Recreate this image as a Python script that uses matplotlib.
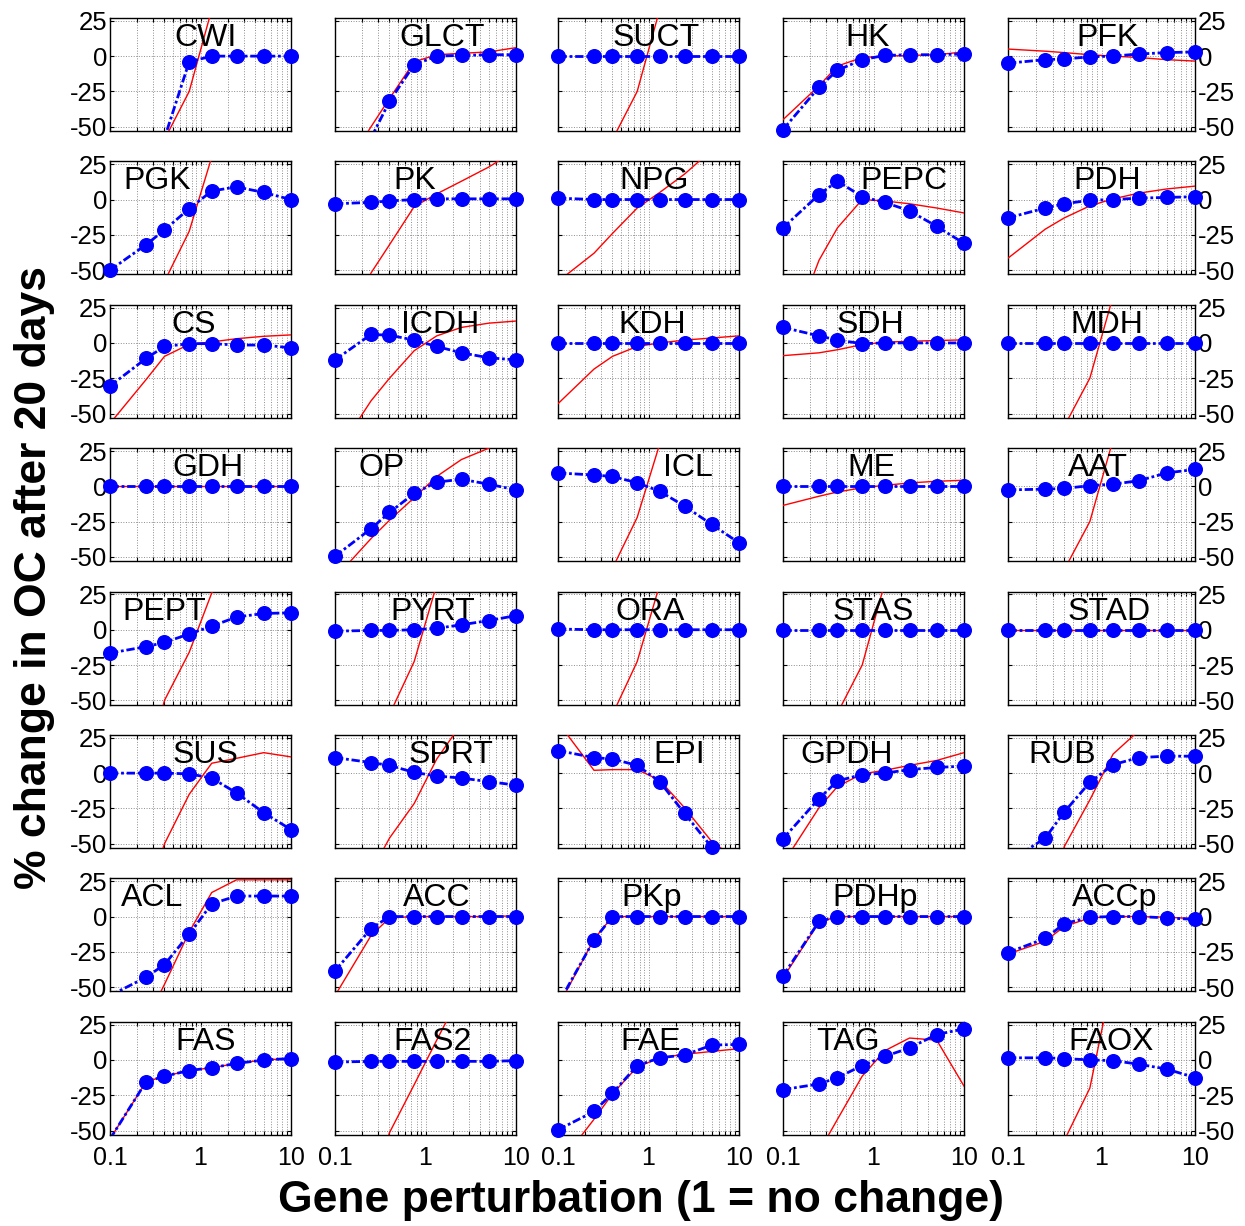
import numpy as np
import matplotlib.pyplot as plt
from matplotlib.ticker import NullFormatter

plt.rcParams['font.family'] = ['Liberation Sans', 'DejaVu Sans']
plt.rcParams['axes.unicode_minus'] = False

# gene perturbation factors, same for every panel
perturb = [0.1, 0.25, 0.4, 0.75, 1.33, 2.5, 5, 10]

# blue dots = simulated % change, red line = first order estimate
# values outside the -50..25 window are rough guesses (clipped anyway)
CWI_sim = [-150, -100, -58, -4, 0, 0, 0, 0]
CWI_est = [-150, -100, -59, -25, 33, 60, 100, 150]
GLCT_sim = [-110, -58, -32, -6, 0, 0.5, 1, 1]
GLCT_est = [-90, -50, -30, -4, 1, 2, 3, 6]
SUCT_sim = [0, 0, 0, 0, 0, 0, 0, 0]
SUCT_est = [-150, -100, -59, -25, 33, 60, 100, 150]
HK_sim = [-52, -22, -10, -2.5, 0.5, 1, 1, 1.5]
HK_est = [-45, -21, -7, -1, 0, 0.5, 1, 3]
PFK_sim = [-5, -2.5, -2, -0.5, 0, 1.5, 2.5, 3]
PFK_est = [5, 3.5, 2.5, 1, 0, -1, -2.5, -3.5]

PGK_sim = [-50, -32, -21.5, -6.5, 6, 9, 5, 0]
PGK_est = [-150, -100, -58, -22.5, 30, 60, 100, 150]
PK_sim = [-3, -2, -1, 0, 0.5, 0.5, 0.5, 0.5]
PK_est = [-110, -52, -32, -5, 4, 13, 23, 35]
NPG_sim = [1, 0, 0, 0, 0, 0, 0, 0]
NPG_est = [-58, -38, -24, -6, 5, 18, 35, 52]
PEPC_sim = [-20, 3.5, 13, 2, -2, -8, -19, -31]
PEPC_est = [-110, -43, -20, 0, -1, -3, -6, -9.5]
PDH_sim = [-13, -6, -3, -0.5, 0, 1, 1.5, 2]
PDH_est = [-41.5, -21, -13, -4.5, 0.5, 4.5, 7.5, 9.5]

CS_sim = [-30.5, -11, -2.5, -0.5, -0.5, -1.5, -1.5, -3.5]
CS_est = [-57, -26, -9.5, -1, 0.7, 3, 4.7, 5.7]
ICDH_sim = [-12, 6, 5.5, 2, -2.5, -7, -10.5, -12]
ICDH_est = [-80, -41, -25, -5.5, 5, 11, 14, 15.5]
KDH_sim = [0, 0, 0, 0, 0, 0, 0, 0]
KDH_est = [-43, -18.5, -9.5, -2.5, 0, 2, 3.5, 5]
SDH_sim = [11, 5, 2, -0.5, 0, 0, 0, 0]
SDH_est = [-9, -7, -4.8, -1.2, 0.5, 1.2, 1.7, 2.2]
MDH_sim = [0, 0, 0, 0, 0, 0, 0, 0]
MDH_est = [-150, -100, -59, -25, 33, 60, 100, 150]

GDH_sim = [0, 0, 0, 0, 0, 0, 0, 0]
GDH_est = [0, 0, 0, 0, 0, 0, 0, 0]
OP_sim = [-49.5, -30, -18.5, -5, 3, 5, 1.5, -2.5]
OP_est = [-65, -37, -24, -8, 7, 19, 27, 40]
ICL_sim = [9.5, 8, 7, 2.5, -3.5, -14, -27, -40]
ICL_est = [-150, -100, -58, -22, 30, 60, 100, 150]
ME_sim = [0, 0, 0, 0, 0, 0, 0, 0]
ME_est = [-13.5, -7, -4, -1, 0.7, 2.4, 3.6, 4.3]
AAT_sim = [-2.5, -2, -1.5, 0.5, 1.5, 4, 9.5, 12]
AAT_est = [-150, -100, -59, -25, 33, 60, 100, 150]

PEPT_sim = [-16.5, -12, -9, -3, 2.5, 9, 11.5, 12]
PEPT_est = [-150, -100, -50, -16, 26, 60, 100, 150]
PYRT_sim = [-1, -0.5, -0.5, 0, 1, 3.5, 6.5, 10]
PYRT_est = [-150, -100, -60, -22.5, 32, 60, 100, 150]
ORA_sim = [0.5, 0, 0, 0, 0, 0, 0, 0]
ORA_est = [-150, -100, -60, -22.5, 32, 60, 100, 150]
STAS_sim = [0, 0, 0, 0, 0, 0, 0, 0]
STAS_est = [-150, -100, -59, -25, 33, 60, 100, 150]
STAD_sim = [0, 0, 0, 0, 0, 0, 0, 0]
STAD_est = [0, 0, 0, 0, 0, 0, 0, 0]

SUS_sim = [0, 0, 0, -0.5, -3.5, -14, -28, -40]
SUS_est = [-150, -90, -50, -15, 7, 10.5, 14.5, 11.5]
SPRT_sim = [11, 7.5, 5.5, 0.5, -2, -3.5, -6, -8.5]
SPRT_est = [-150, -70, -46, -21.5, 10, 35, 70, 110]
EPI_sim = [16, 11, 10, 5.5, -6, -28.5, -52.5, -90]
EPI_est = [36, 2, 2.5, 2.5, -5, -24.5, -48.5, -62]
GPDH_sim = [-46.5, -18, -5.5, -1, 0, 2.5, 4, 5]
GPDH_est = [-64, -24.5, -9.5, -0.5, 2, 5.5, 9, 14.5]
RUB_sim = [-63, -46, -27.5, -6.5, 6, 11, 12, 12]
RUB_est = [-150, -100, -52, -19, 13.5, 30, 60, 100]

ACL_sim = [-56, -43, -34, -12.5, 9, 14.5, 14.5, 14.5]
ACL_est = [-120, -74, -48, -11, 17, 26, 26, 26]
ACC_sim = [-38.5, -8.5, 0, 0, 0, 0, 0, 0]
ACC_est = [-56, -13.5, -1, 0, 0, 0, 0, 0.5]
PKp_sim = [-62, -16.5, 0, 0, 0, 0, 0, 0]
PKp_est = [-64, -16, 0, 0, 0, 0, 0, 0]
PDHp_sim = [-42, -3.5, 0, 0, 0, 0, 0, 0]
PDHp_est = [-43.5, -4, 0, 0, 0, 0, 0, 0]
ACCp_sim = [-25.5, -15.5, -5, -0.5, 0, 0, -1, -2]
ACCp_est = [-26.5, -17.5, -7, -1, 0, 0, -0.5, -1.5]

FAS_sim = [-56, -15.5, -11.5, -7.5, -5.5, -2.5, 0, 1]
FAS_est = [-56, -15.5, -11.5, -7.5, -5.5, -2.5, 0, 1]
FAS2_sim = [-1.5, -1, -1, -1, -1, -1, -1, -0.5]
FAS2_est = [-150, -90, -51.5, -17.5, 14, 48, 85, 125]
FAE_sim = [-49.5, -36.5, -23.5, -4, 1.5, 3.5, 10.5, 11]
FAE_est = [-75, -42, -24, -5, 1.5, 4, 6, 8]
TAG_sim = [-21, -17, -12.5, -4, 2.5, 8.5, 18, 22]
TAG_est = [-100, -65, -42, -11.5, 6.5, 15.5, 14, -18.5]
FAOX_sim = [1.5, 1.5, 1, 0, -0.5, -3, -6.5, -12.5]
FAOX_est = [-150, -100, -57, -20, 60, 100, 150, 200]

genes = ['CWI', 'GLCT', 'SUCT', 'HK', 'PFK',
         'PGK', 'PK', 'NPG', 'PEPC', 'PDH',
         'CS', 'ICDH', 'KDH', 'SDH', 'MDH',
         'GDH', 'OP', 'ICL', 'ME', 'AAT',
         'PEPT', 'PYRT', 'ORA', 'STAS', 'STAD',
         'SUS', 'SPRT', 'EPI', 'GPDH', 'RUB',
         'ACL', 'ACC', 'PKp', 'PDHp', 'ACCp',
         'FAS', 'FAS2', 'FAE', 'TAG', 'FAOX']

# where each panel name sits (axes fraction, centre)
title_x = [0.53, 0.59, 0.54, 0.47, 0.53,
           0.26, 0.44, 0.53, 0.67, 0.53,
           0.46, 0.58, 0.52, 0.48, 0.53,
           0.54, 0.26, 0.72, 0.49, 0.48,
           0.30, 0.54, 0.51, 0.50, 0.54,
           0.53, 0.64, 0.67, 0.35, 0.29,
           0.23, 0.56, 0.52, 0.51, 0.57,
           0.53, 0.54, 0.51, 0.36, 0.55]

YLO, YHI = -53, 27
W, H = 1245, 1226
col_left = [110, 335, 558, 783, 1008]
col_w = [181, 181, 181, 181, 187]
row_top = [18 + 143.4 * i for i in range(8)]
ax_h = 113

fig = plt.figure(figsize=(W / 100, H / 100), dpi=100)

for k, g in enumerate(genes):
    r, c = divmod(k, 5)
    sim = np.array(globals()[g + '_sim'], dtype=float)
    est = np.array(globals()[g + '_est'], dtype=float)
    ax = fig.add_axes([col_left[c] / W, 1 - (row_top[r] + ax_h) / H,
                       col_w[c] / W, ax_h / H])
    ax.set_xscale('log')
    ax.set_xlim(0.1, 10)
    ax.set_ylim(YLO, YHI)

    ax.plot(perturb, est, color='red', lw=1.0, zorder=3)
    ax.plot(perturb, sim, color='blue', lw=2.0, ls=(0, (3, 1, 1, 1)), zorder=4)
    dots = np.where(sim >= YLO - 0.5, sim, np.nan)
    ax.plot(perturb, dots, 'o', color='blue', ms=9.8, zorder=5, clip_on=False)

    ax.text(title_x[k], 0.955, g, transform=ax.transAxes, ha='center', va='top',
            fontsize=23)

    ax.set_yticks([-50, -25, 0, 25])
    ax.set_xticks([0.1, 1, 10])
    ax.set_xticklabels(['0.1', '1', '10'])
    ax.xaxis.set_minor_formatter(NullFormatter())
    ax.grid(True, which='both', axis='x', ls=':', color='#8c8c8c', lw=0.7)
    ax.grid(True, which='major', axis='y', ls=':', color='#8c8c8c', lw=0.7)
    ax.tick_params(axis='both', which='both', direction='in', top=True,
                   right=True, length=3, width=0.8)
    ax.tick_params(axis='y', labelleft=(c == 0), labelright=(c == 4), pad=2,
                   labelsize=18.5)
    ax.tick_params(axis='x', labelbottom=(r == 7), pad=8, labelsize=18)
    for s in ax.spines.values():
        s.set_linewidth(1.0)

fig.text(0.515, 0.021, 'Gene perturbation (1 = no change)', ha='center',
         va='center', fontsize=32, fontweight='bold')
fig.text(0.028, 0.529, '% change in OC after 20 days', ha='center',
         va='center', rotation=90, fontsize=32, fontweight='bold')

fig.savefig('out.png', dpi=100)
